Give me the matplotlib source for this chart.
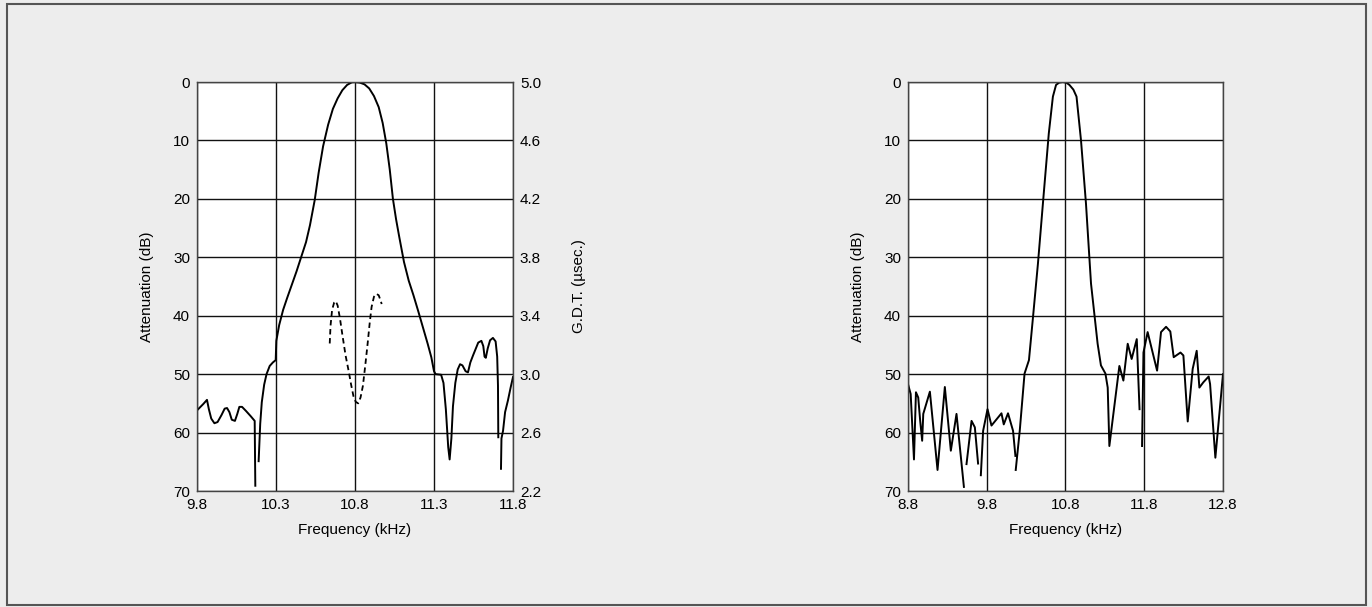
import numpy as np
import matplotlib
matplotlib.use("Agg")
import matplotlib.pyplot as plt
from matplotlib.patches import Rectangle

nan = np.nan

# left panel: attenuation (dB) vs frequency (kHz), NaN = break in trace
left_freq = [9.80, 9.84, 9.863, 9.875, 9.89, 9.91, 9.93, 9.955, 9.975, 9.99,
             10.005, 10.02, 10.04, 10.055, 10.068, 10.085, 10.11, 10.14, 10.165, 10.169,
             nan,
             10.19, 10.20, 10.21, 10.225, 10.24, 10.26, 10.28, 10.298, 10.302, 10.32,
             10.345, 10.37, 10.40, 10.43, 10.46, 10.49, 10.515, 10.545, 10.57, 10.598,
             10.63, 10.66, 10.69, 10.72, 10.75, 10.78, 10.80, 10.83, 10.86, 10.89,
             10.92, 10.95, 10.975, 10.998, 11.02, 11.04, 11.06, 11.08, 11.11, 11.14,
             11.17, 11.20, 11.23, 11.26, 11.283, 11.30, 11.31, 11.345, 11.36, 11.375,
             11.39, 11.399, 11.41, 11.42, 11.435, 11.45, 11.465, 11.48, 11.50, 11.515,
             11.53, 11.547, 11.565, 11.58, 11.60, 11.612, 11.62, 11.628, 11.64, 11.655,
             11.673, 11.69, 11.70, 11.705, 11.707,
             nan,
             11.724, 11.727, 11.737, 11.75, 11.768, 11.785, 11.80]
left_db = [56.2, 55.1, 54.4, 56.0, 57.6, 58.4, 58.2, 57.0, 55.9, 55.8,
           56.5, 57.8, 58.0, 56.8, 55.6, 55.6, 56.3, 57.2, 58.0, 69.1,
           nan,
           64.9, 58.5, 54.8, 51.8, 50.0, 48.6, 48.0, 47.6, 44.3, 41.6,
           39.0, 37.0, 34.7, 32.4, 29.9, 27.4, 24.5, 20.2, 15.5, 11.0,
           7.3, 4.6, 2.8, 1.4, 0.5, 0.05, 0.0, 0.1, 0.4, 1.1,
           2.4, 4.3, 7.0, 10.5, 15.0, 20.0, 23.5, 26.5, 30.8, 34.0,
           36.5, 39.2, 42.0, 44.8, 47.1, 49.5, 50.0, 50.1, 51.5, 56.0,
           62.5, 64.6, 61.0, 55.5, 51.5, 49.2, 48.3, 48.5, 49.5, 49.7,
           48.0, 46.8, 45.6, 44.6, 44.3, 45.2, 47.0, 47.2, 45.6, 44.2,
           43.8, 44.4, 47.0, 52.0, 60.8,
           nan,
           66.2, 61.0, 59.7, 56.5, 54.5, 52.3, 50.5]

# group delay time (usec) on the right axis of the left panel
gdt_freq = [10.64, 10.645, 10.655, 10.668, 10.678, 10.69, 10.705, 10.72, 10.74, 10.76,
            10.775, 10.79, 10.805, 10.82, 10.835, 10.85, 10.865, 10.88, 10.893, 10.905,
            10.92, 10.935, 10.95, 10.96, 10.969]
gdt_usec = [3.21, 3.33, 3.44, 3.49, 3.50, 3.47, 3.38, 3.27, 3.13, 3.02,
            2.93, 2.85, 2.81, 2.80, 2.84, 2.92, 3.06, 3.21, 3.35, 3.46,
            3.53, 3.55, 3.54, 3.51, 3.48]

# right panel
right_freq = [8.80, 8.834, 8.876, 8.901, 8.93, 8.955, 8.98, 8.994, 9.078, 9.175,
              9.268, 9.344, 9.416, 9.51,
              nan,
              9.543, 9.607, 9.649, 9.69,
              nan,
              9.725, 9.754, 9.81, 9.86, 9.987, 10.016, 10.07, 10.134, 10.164,
              nan,
              10.168, 10.219, 10.28, 10.336, 10.387, 10.45, 10.52, 10.588, 10.64, 10.68,
              10.72, 10.765, 10.81, 10.85, 10.90, 10.94, 10.997, 11.06, 11.124, 11.208,
              11.25, 11.307, 11.336, 11.357, 11.484, 11.535, 11.59, 11.64, 11.705, 11.74,
              nan,
              11.772, 11.79, 11.843, 11.963, 12.013, 12.077, 12.131, 12.174, 12.26, 12.297,
              12.352, 12.415, 12.466, 12.50, 12.55, 12.618, 12.636, 12.703, 12.80]
right_db = [51.7, 53.4, 64.6, 53.1, 54.0, 58.0, 61.4, 56.8, 53.0, 66.4,
            52.2, 63.1, 56.8, 69.3,
            nan,
            65.4, 58.0, 59.1, 65.3,
            nan,
            67.3, 59.7, 56.0, 58.8, 56.7, 58.6, 56.7, 59.7, 64.0,
            nan,
            66.4, 59.7, 49.9, 47.6, 40.3, 31.1, 19.7, 8.8, 2.5, 0.5,
            0.1, 0.0, 0.1, 0.5, 1.3, 2.5, 10.0, 20.8, 34.5, 44.8,
            48.5, 49.9, 52.3, 62.3, 48.6, 51.1, 44.8, 47.4, 44.0, 56.0,
            nan,
            62.3, 46.3, 42.8, 49.4, 42.8, 41.9, 42.7, 47.1, 46.3, 46.8,
            58.1, 49.1, 46.0, 52.3, 51.4, 50.4, 51.7, 64.3, 50.0]

left_xticks = [9.8, 10.3, 10.8, 11.3, 11.8]
right_xticks = [8.8, 9.8, 10.8, 11.8, 12.8]
db_ticks = [0, 10, 20, 30, 40, 50, 60, 70]
gdt_ticks = [5.0, 4.6, 4.2, 3.8, 3.4, 3.0, 2.6, 2.2]

plt.rcParams["font.family"] = ["Liberation Sans", "DejaVu Sans"]
plt.rcParams["font.size"] = 11

bg = "#ededed"
fig = plt.figure(figsize=(13.72, 6.07), dpi=100, facecolor=bg)
fig.patches.append(Rectangle((0.005, 0.004), 0.9905, 0.99, transform=fig.transFigure,
                             fill=False, edgecolor="#555555", linewidth=1.5))


def style(ax, xticks):
    ax.set_facecolor("white")
    ax.set_ylim(70, 0)
    ax.set_yticks(db_ticks)
    ax.set_xticks(xticks)
    ax.set_xticklabels([f"{v:.1f}" for v in xticks])
    ax.grid(True, color="#111111", linewidth=1.0)
    ax.set_axisbelow(True)
    ax.tick_params(length=0, pad=5, labelsize=11)
    for s in ax.spines.values():
        s.set_color("#444444")
        s.set_linewidth(1.0)
    ax.set_xlabel("Frequency (kHz)", fontsize=11, labelpad=8)
    ax.set_ylabel("Attenuation (dB)", fontsize=11, labelpad=14)


ax1 = fig.add_axes([0.1436, 0.1911, 0.2303, 0.6738])
style(ax1, left_xticks)
ax1.set_xlim(9.8, 11.8)
ax1.plot(left_freq, left_db, color="black", linewidth=1.4)

ax2 = ax1.twinx()
ax2.set_ylim(2.2, 5.0)
ax2.set_yticks(gdt_ticks)
ax2.set_yticklabels([f"{v:.1f}" for v in gdt_ticks])
ax2.tick_params(length=0, pad=5, labelsize=11)
for s in ax2.spines.values():
    s.set_visible(False)
ax2.set_ylabel("G.D.T. (µsec.)", fontsize=11, labelpad=22)
ax2.plot(gdt_freq, gdt_usec, color="black", linewidth=1.3, linestyle=(0, (3, 2)))

ax3 = fig.add_axes([0.6618, 0.1911, 0.2296, 0.6738])
style(ax3, right_xticks)
ax3.set_xlim(8.8, 12.8)
ax3.plot(right_freq, right_db, color="black", linewidth=1.4)

fig.savefig("out.png", dpi=100, facecolor=bg)
